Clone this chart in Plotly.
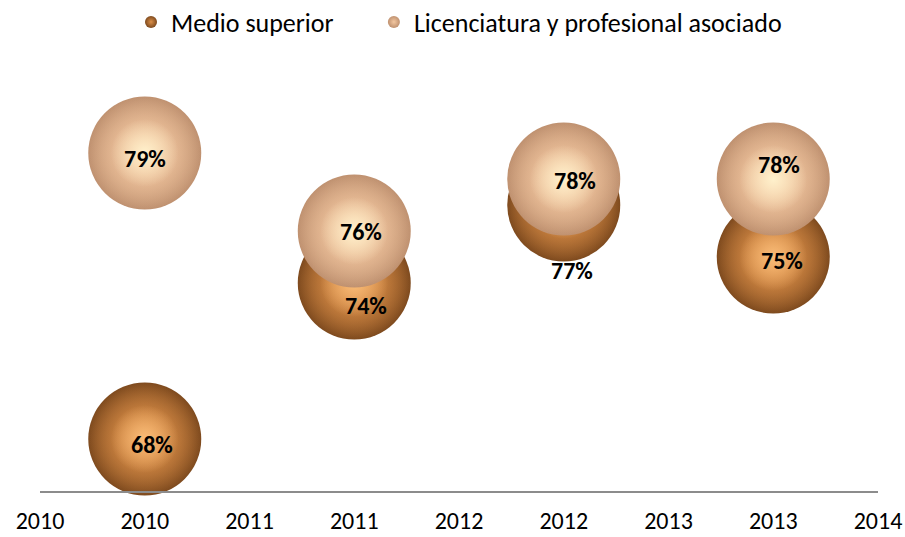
import plotly.graph_objects as go

# ---- data ----
years = [2010.5, 2011.5, 2012.5, 2013.5]
medio_superior = [68, 74, 77, 75]
licenciatura = [79, 76, 78, 78]
series_names = ["Medio superior", "Licenciatura y profesional asociado"]
tick_vals = [2010, 2010.5, 2011, 2011.5, 2012, 2012.5, 2013, 2013.5, 2014]
tick_text = ["2010", "2010", "2011", "2011", "2012", "2012", "2013", "2013", "2014"]

# label pixel offsets (dx, dy) relative to each bubble centre (style only)
medio_label_offsets = [(7, -5), (12, -22), (8, -65), (9, -3)]
lic_label_offsets = [(0, -5), (7, 0), (11, -1), (6, 15)]

FONT = "Carlito, Lato, 'Liberation Sans', sans-serif"
BUBBLE = 113
LEGEND_PAD = "\u00a0" * 6

fig = go.Figure()


def rgba(hex_color, a):
    h = hex_color.lstrip("#")
    r, g, b = int(h[0:2], 16), int(h[2:4], 16), int(h[4:6], 16)
    return f"rgba({r},{g},{b},{a})"


def add_series(yvals, name, edge, main, highlight):
    # base sphere: main colour at centre fading to dark rim
    fig.add_trace(go.Scatter(
        x=years, y=yvals, mode="markers", name=name,
        marker=dict(size=BUBBLE, color=edge, line=dict(width=0),
                    gradient=dict(type="radial", color=main)),
        cliponaxis=False, hoverinfo="skip", showlegend=True,
    ))
    # body: keeps the main colour over most of the sphere
    fig.add_trace(go.Scatter(
        x=years, y=yvals, mode="markers", name=name,
        marker=dict(size=BUBBLE, color=rgba(main, 0), line=dict(width=0),
                    gradient=dict(type="radial", color=main)),
        cliponaxis=False, hoverinfo="skip", showlegend=False,
    ))
    # soft highlight
    fig.add_trace(go.Scatter(
        x=years, y=yvals, mode="markers", name=name,
        marker=dict(size=BUBBLE * 0.6, color=rgba(highlight, 0), line=dict(width=0),
                    gradient=dict(type="radial", color=highlight)),
        cliponaxis=False, hoverinfo="skip", showlegend=False,
    ))


add_series(medio_superior, series_names[0] + LEGEND_PAD, "#7e4a1e", "#dc8f48", "#f9bc78")
add_series(licenciatura, series_names[1], "#bf9170", "#f3c7a0", "#fff1cc")

annotations = []
for vals, offs in [(medio_superior, medio_label_offsets),
                   (licenciatura, lic_label_offsets)]:
    for x, v, (dx, dy) in zip(years, vals, offs):
        annotations.append(dict(
            x=x, y=v, xref="x", yref="y", text=f"<b>{v}%</b>", showarrow=False,
            xshift=dx, yshift=dy, font=dict(family=FONT, size=24, color="#000000"),
        ))

fig.update_layout(
    width=905, height=537,
    margin=dict(l=40, r=27, t=75, b=46),
    paper_bgcolor="white", plot_bgcolor="white",
    font=dict(family=FONT, size=24, color="#000000"),
    annotations=annotations,
    legend=dict(orientation="h", xref="paper", x=0.5, xanchor="center",
                yref="container", y=1 - 22 / 537, yanchor="middle",
                font=dict(family=FONT, size=26), itemsizing="constant",
                bgcolor="rgba(0,0,0,0)"),
    xaxis=dict(range=[2010, 2014], tickvals=tick_vals, ticktext=tick_text,
               showgrid=False, zeroline=False, showline=True,
               linecolor="#8c8c8c", linewidth=2, ticks="", automargin=False,
               tickfont=dict(family=FONT, size=24), ticklabelstandoff=7),
    yaxis=dict(range=[66, 82], showgrid=False, zeroline=False, automargin=False,
               showline=False, showticklabels=False, ticks=""),
)

fig.write_html("out.html", config={"displayModeBar": False},
               post_script="document.body.style.margin='0';")
